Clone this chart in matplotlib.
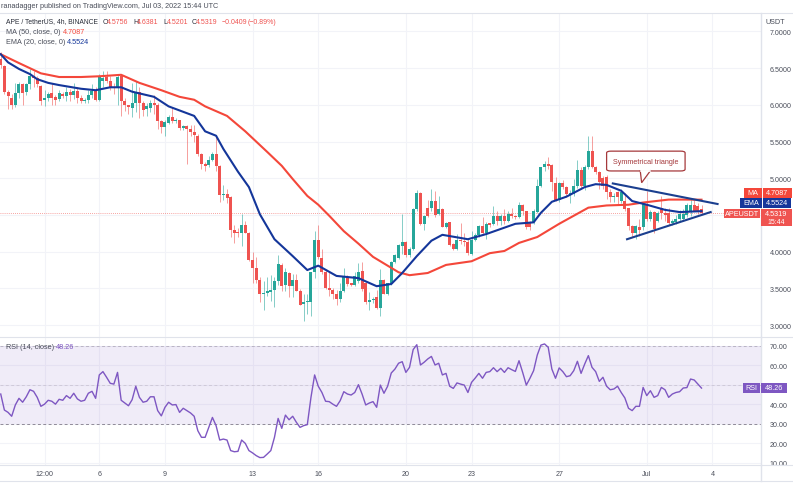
import matplotlib
matplotlib.use('Agg')
from matplotlib import pyplot as plt
from matplotlib.patches import Rectangle, FancyBboxPatch, Polygon
from matplotlib.transforms import Affine2D
import numpy as np

plt.rcParams['font.family'] = ['Liberation Sans', 'DejaVu Sans']

# 4h candles
opens = [6.62,6.53,6.17,6.10,6.00,6.16,6.29,6.17,6.28,6.39,
         6.37,6.26,6.06,6.10,6.16,6.11,6.08,6.15,6.12,6.18,
         6.13,6.19,6.10,6.05,6.07,6.13,6.19,6.07,6.33,6.38,
         6.33,6.25,6.24,6.39,6.05,6.00,5.96,6.02,6.18,6.03,
         5.95,5.96,6.03,6.00,5.78,5.70,5.76,5.84,5.78,5.79,
         5.68,5.71,5.67,5.63,5.58,5.33,5.20,5.18,5.25,5.33,
         5.17,4.77,4.78,4.74,4.30,4.26,4.26,4.37,4.26,3.89,
         3.78,3.62,3.42,3.44,3.45,3.48,3.60,3.82,3.54,3.71,
         3.53,3.62,3.47,3.29,3.31,3.31,3.72,4.16,3.92,3.73,
         3.50,3.48,3.42,3.36,3.46,3.65,3.56,3.54,3.60,3.74,
         3.57,3.32,3.34,3.38,3.23,3.61,3.43,3.56,3.86,3.92,
         4.08,4.13,3.95,4.04,4.58,4.80,4.38,4.59,4.59,4.69,
         4.52,4.58,4.34,4.40,4.10,4.04,4.16,4.15,4.13,3.97,
         4.16,4.23,4.35,4.25,4.38,4.38,4.48,4.42,4.48,4.42,
         4.51,4.48,4.47,4.64,4.55,4.40,4.40,4.54,4.89,5.15,
         5.19,5.18,4.94,4.70,4.93,4.88,4.78,4.78,4.90,5.11,
         4.90,5.15,5.37,5.16,5.09,5.01,5.02,4.81,4.74,4.81,
         4.69,4.69,4.59,4.35,4.26,4.33,4.33,4.65,4.44,4.54,
         4.42,4.59,4.53,4.53,4.39,4.41,4.45,4.45,4.50,4.54,
         4.63,4.62,4.5756]
highs = [6.72,6.55,6.20,6.15,6.30,6.31,6.30,6.30,6.49,6.46,
         6.40,6.27,6.20,6.18,6.30,6.14,6.20,6.17,6.25,6.22,
         6.30,6.25,6.14,6.10,6.20,6.28,6.25,6.42,6.46,6.46,
         6.40,6.30,6.42,6.40,6.10,6.00,6.30,6.33,6.25,6.05,
         6.02,6.06,6.13,6.03,5.80,5.80,5.86,5.97,5.82,5.80,
         5.73,5.72,5.72,5.72,5.61,5.35,5.22,5.30,5.36,5.58,
         5.18,4.91,4.85,4.76,4.36,4.32,4.51,4.42,4.27,4.00,
         3.93,3.65,3.60,3.65,3.68,3.65,3.96,3.84,3.78,3.73,
         3.70,3.70,3.49,3.42,3.42,3.73,4.28,4.36,4.04,3.75,
         3.72,3.50,3.48,3.57,3.78,3.68,3.58,3.72,3.85,3.86,
         3.58,3.45,3.38,3.48,3.76,3.63,3.58,3.88,3.97,4.10,
         4.52,4.15,4.06,4.60,4.84,4.81,4.50,4.70,4.85,4.83,
         4.76,4.60,4.40,4.41,4.12,4.24,4.39,4.25,4.17,4.28,
         4.25,4.37,4.47,4.40,4.39,4.62,4.55,4.52,4.58,4.55,
         4.60,4.50,4.68,4.65,4.56,4.42,4.58,4.99,5.16,5.23,
         5.29,5.20,5.02,4.95,4.98,4.90,4.84,4.99,5.25,5.15,
         5.18,5.57,5.57,5.17,5.10,5.03,5.04,4.85,4.80,4.83,
         4.86,4.80,4.60,4.36,4.37,4.45,4.66,4.83,4.57,4.55,
         4.56,4.76,4.60,4.60,4.44,4.50,4.57,4.58,4.66,4.72,
         4.70,4.66,4.6381]
lows = [6.50,6.15,5.94,5.95,5.97,6.10,6.00,6.14,6.22,6.25,
        6.25,6.00,5.98,6.05,6.00,6.00,6.05,6.10,6.05,6.05,
        6.08,6.03,6.02,6.02,6.03,6.10,6.05,6.05,6.25,6.30,
        6.20,6.15,6.00,5.85,5.92,5.88,5.83,5.90,5.82,5.85,
        5.85,5.90,5.88,5.67,5.62,5.58,5.74,5.75,5.76,5.66,
        5.66,5.20,5.57,5.50,5.30,5.13,5.10,5.15,5.24,5.10,
        4.68,4.70,4.67,4.20,4.12,4.20,4.08,4.25,3.88,3.57,
        3.58,3.32,3.21,3.39,3.33,3.24,3.55,3.47,3.47,3.38,
        3.38,3.46,3.27,3.06,3.15,3.12,3.64,3.90,3.70,3.49,
        3.40,3.35,3.28,3.32,3.45,3.53,3.53,3.53,3.58,3.47,
        3.29,3.20,3.30,3.22,3.12,3.42,3.41,3.55,3.84,3.90,
        3.97,3.93,3.93,4.03,4.55,4.36,4.30,4.47,4.55,4.47,
        4.50,4.33,4.32,4.08,4.03,4.02,4.10,4.08,3.96,3.95,
        4.15,4.20,4.24,4.17,4.33,4.36,4.36,4.36,4.38,4.40,
        4.46,4.45,4.46,4.50,4.31,4.30,4.38,4.53,4.88,5.10,
        5.12,4.83,4.69,4.68,4.85,4.74,4.66,4.76,4.87,4.85,
        4.84,5.13,5.14,5.06,4.85,4.85,4.72,4.68,4.68,4.65,
        4.66,4.56,4.30,4.20,4.17,4.22,4.30,4.42,4.42,4.26,
        4.40,4.44,4.42,4.37,4.36,4.38,4.42,4.42,4.47,4.48,
        4.55,4.52,4.5201]
closes = [6.55,6.17,6.12,6.00,6.16,6.29,6.16,6.28,6.39,6.36,
          6.28,6.05,6.10,6.15,6.09,6.07,6.16,6.12,6.18,6.13,
          6.19,6.10,6.05,6.07,6.14,6.19,6.07,6.38,6.37,6.33,
          6.25,6.23,6.38,6.05,6.00,5.97,6.02,6.18,6.03,5.93,
          5.98,6.02,6.00,5.78,5.70,5.77,5.84,5.78,5.79,5.68,
          5.71,5.67,5.63,5.59,5.33,5.20,5.17,5.25,5.33,5.17,
          4.77,4.78,4.73,4.30,4.26,4.25,4.37,4.26,3.89,3.78,
          3.62,3.43,3.44,3.46,3.48,3.60,3.83,3.53,3.72,3.53,
          3.62,3.47,3.28,3.31,3.31,3.72,4.16,3.93,3.73,3.50,
          3.48,3.42,3.36,3.46,3.65,3.56,3.55,3.67,3.73,3.49,
          3.31,3.34,3.36,3.23,3.61,3.43,3.57,3.86,3.95,4.09,
          4.13,3.95,4.04,4.58,4.80,4.38,4.49,4.49,4.69,4.50,
          4.58,4.34,4.39,4.09,4.04,4.16,4.14,4.13,3.98,4.16,
          4.23,4.35,4.25,4.38,4.37,4.48,4.42,4.48,4.42,4.51,
          4.48,4.47,4.64,4.55,4.33,4.33,4.55,4.89,5.15,5.19,
          5.17,4.95,4.70,4.93,4.88,4.78,4.79,4.90,5.11,4.90,
          5.15,5.37,5.16,5.09,4.95,4.89,4.81,4.74,4.75,4.74,
          4.81,4.58,4.35,4.26,4.35,4.29,4.65,4.44,4.54,4.31,
          4.53,4.53,4.50,4.39,4.42,4.45,4.51,4.52,4.63,4.64,
          4.55,4.56,4.5319]

# moving averages, sampled along the drawn lines
ma_bars = [0,5,11,16,22,27,33,38,44,49,53,56,62,67,73,77,80,84,87,90,94,98,102,106,109,112,
           117,122,129,134,138,142,147,151,153,157,161,166,172,176,183,187,192]
ma_vals = [6.69,6.57,6.43,6.38,6.38,6.39,6.41,6.30,6.20,6.11,6.07,5.98,5.85,5.64,5.36,5.17,
           4.99,4.76,4.64,4.49,4.28,4.11,3.93,3.81,3.72,3.68,3.71,3.82,3.87,3.98,4.01,4.12,
           4.20,4.32,4.38,4.49,4.60,4.63,4.64,4.67,4.71,4.71,4.7087]
ema_bars = [0,2,5,8,10,13,16,22,26,30,33,36,42,46,53,56,59,61,65,68,71,75,80,84,87,92,98,103,
            107,110,114,118,121,128,133,141,146,148,151,155,160,163,166,170,173,177,182,186,192]
ema_vals = [6.69,6.58,6.49,6.42,6.35,6.30,6.27,6.22,6.20,6.24,6.24,6.18,6.11,5.98,5.85,5.64,
            5.58,5.40,5.09,4.88,4.51,4.17,3.94,3.75,3.81,3.67,3.64,3.53,3.56,3.71,3.94,4.15,
            4.23,4.17,4.24,4.38,4.40,4.53,4.68,4.75,4.88,4.92,4.91,4.83,4.69,4.64,4.57,4.54,4.5524]

rsi_vals = [45.2,37.0,35.8,33.8,39.6,43.0,41.0,43.8,47.4,46.6,
            43.5,38.9,40.0,42.0,41.5,40.0,42.5,42.0,44.4,43.0,
            45.6,42.7,41.5,42.0,45.6,46.6,43.0,55.0,56.7,53.8,
            50.7,50.3,56.3,42.0,40.6,39.2,42.3,49.2,43.5,41.0,
            41.5,43.8,43.8,36.7,34.0,38.4,41.0,39.6,39.8,35.8,
            37.9,36.7,35.5,33.8,26.4,23.0,23.0,28.1,33.2,29.0,
            21.6,22.1,21.6,16.2,15.6,15.8,21.6,19.9,16.2,15.0,
            13.6,12.6,12.7,14.4,16.2,23.0,32.7,27.6,34.4,32.0,
            33.8,30.7,28.1,29.0,29.5,43.5,55.0,49.2,46.0,41.5,
            41.3,40.0,38.9,41.8,46.4,45.2,44.7,46.0,50.0,45.2,
            39.6,40.6,41.3,38.4,49.8,45.6,49.2,56.0,58.0,61.0,
            61.8,56.3,58.9,68.0,70.5,60.1,61.5,63.2,64.5,60.1,
            61.0,55.0,55.8,49.2,48.1,50.9,50.3,49.8,46.0,51.2,
            53.4,55.8,53.3,56.3,56.7,58.7,56.7,58.4,56.3,58.7,
            57.7,56.8,62.3,56.3,49.8,53.3,57.2,65.2,70.3,70.9,
            69.2,58.0,53.3,58.6,56.7,54.1,54.6,57.2,62.0,55.8,
            60.6,64.9,58.9,56.7,51.7,53.8,49.2,47.4,47.8,49.2,
            46.0,43.2,37.9,36.7,38.9,38.9,48.6,44.4,46.9,43.5,
            44.4,48.6,47.4,43.5,45.2,46.0,46.4,48.3,48.5,52.9,
            52.4,50.3,48.26]

time_ticks = [12, 27, 45, 69, 87, 111, 129, 153, 177, 195]
time_labels = ['12:00', '6', '9', '13', '16', '20', '23', '27', 'Jul', '4']
price_ticks = [3.0, 3.5, 4.0, 4.5, 5.0, 5.5, 6.0, 6.5, 7.0]
rsi_ticks = [10, 20, 30, 40, 50, 60, 70]
last_price = 4.5319

UP = '#26a69a'
DOWN = '#ef5350'
MA_COLOR = '#f4473a'
EMA_COLOR = '#14369a'
RSI_COLOR = '#7e57c2'
GRID = '#f2f3f8'
BORDER = '#e0e3eb'
TEXT = '#4a4e5a'
W, H = 793, 485

fig = plt.figure(figsize=(W / 100, H / 100), dpi=100)
fig.patch.set_facecolor('white')

# pixel coordinates of the figure, y going down
px = Affine2D().scale(1 / W, -1 / H).translate(0, 1) + fig.transFigure


def pane(left, top, right, bottom):
    a = fig.add_axes([left / W, 1 - bottom / H, (right - left) / W, (bottom - top) / H])
    a.set_xlim(-0.2, 208.3)
    a.yaxis.tick_right()
    a.tick_params(length=0, labelsize=5.1, labelcolor=TEXT, pad=6)
    a.set_axisbelow(True)
    a.grid(True, color=GRID, lw=0.8)
    for s in ['left', 'top', 'bottom']:
        a.spines[s].set_visible(False)
    a.spines['right'].set_color(BORDER)
    a.spines['right'].set_linewidth(1)
    return a


def label(x, y, s, color=TEXT, size=5.2, ha='left', **kw):
    fig.text(x, y, s, transform=px, color=color, fontsize=size, ha=ha, va='center', **kw)


def tag(x0, x1, y0, y1, color, s, ty=None):
    fig.add_artist(Rectangle((x0, y0), x1 - x0, y1 - y0, transform=px, fc=color, ec='none'))
    label((x0 + x1) / 2, (y0 + y1) / 2 if ty is None else ty, s, color='white', ha='center', size=5.2)


# price pane
ax = pane(0, 14, 761, 338)
ax.set_ylim(2.838, 7.252)
ax.set_yticks(price_ticks)
# 4.5000 sits under the price tags
ax.set_yticklabels(['' if p == 4.5 else '%.4f' % p for p in price_ticks])
ax.set_xticks(time_ticks)
ax.set_xticklabels([])

bars = np.arange(len(closes))
o, h, l, c = map(np.array, (opens, highs, lows, closes))
colors = np.where(c >= o, UP, DOWN)
ax.vlines(bars, l, h, colors=colors, lw=0.6, alpha=0.65, zorder=2)
ax.bar(bars, np.maximum(np.abs(c - o), 0.018), bottom=np.minimum(o, c), width=0.82, color=colors, zorder=3)

ax.axhline(last_price, color=DOWN, lw=0.6, ls=(0, (1, 1.5)), alpha=0.7, zorder=2)
ax.plot(ma_bars, ma_vals, color=MA_COLOR, lw=1.5, zorder=4)
ax.plot(ema_bars, ema_vals, color=EMA_COLOR, lw=1.5, zorder=5)

# triangle
ax.plot([167.7, 196.4], [4.93, 4.65], color='#1b3f8f', lw=1.5, zorder=6)
ax.plot([171.6, 194.5], [4.17, 4.54], color='#1b3f8f', lw=1.5, zorder=6)

# callout
box_c = '#a5393c'
ax.add_patch(FancyBboxPatch((166, 5.10), 21.5, 0.27, boxstyle='round,pad=0,rounding_size=1.2',
                            mutation_aspect=0.02, fc='white', ec=box_c, lw=0.9, zorder=7))
ax.add_patch(Polygon([(175.2, 5.11), (175.6, 4.94), (178.1, 5.11)], closed=False, fc='white', ec=box_c,
                     lw=0.9, zorder=8))
ax.plot([175.5, 177.8], [5.10, 5.10], color='white', lw=1.2, zorder=9)
ax.text(176.6, 5.235, 'Symmetrical triangle', color=box_c, fontsize=5.2, ha='center', va='center', zorder=10)

# RSI pane
ax2 = pane(0, 338, 761, 466)
ax2.set_ylim(8.8, 74.46)
ax2.set_yticks(rsi_ticks)
# 50.00 sits under the RSI tag
ax2.set_yticklabels(['' if v == 50 else '%.2f' % v for v in rsi_ticks])
ax2.set_xticks(time_ticks)
ax2.set_xticklabels(time_labels)
ax2.tick_params(axis='x', pad=3.5)
ax2.axhspan(30, 70, color=RSI_COLOR, alpha=0.11, lw=0, zorder=1)
for v, col in [(70, '#b9b4c4'), (50, '#cfcad9'), (30, '#8f8a99')]:
    ax2.axhline(v, color=col, lw=0.7, ls=(0, (3, 2.5)), zorder=2)
ax2.plot(bars, rsi_vals, color=RSI_COLOR, lw=1.0, zorder=3)

# frame lines
for y in [14, 338, 466, 482]:
    fig.add_artist(plt.Line2D([0, W], [y, y], transform=px, color=BORDER, lw=0.8))
fig.add_artist(plt.Line2D([761, 761], [466, 482], transform=px, color=BORDER, lw=1))

# header and legends
label(1, 6.5, 'ranadagger published on TradingView.com, Jul 03, 2022 15:44 UTC', size=5.2)
label(6, 22, 'APE / TetherUS, 4h, BINANCE', color='#2a2e39', size=4.9)
for x, s, col in [(102.5, 'O', '#2a2e39'), (106.8, '4.5756', DOWN), (133, 'H', '#2a2e39'), (137.3, '4.6381', DOWN),
                  (163, 'L', '#2a2e39'), (166.5, '4.5201', DOWN), (192, 'C', '#2a2e39'), (196.3, '4.5319', DOWN),
                  (221.5, '\u22120.0409', DOWN), (248, '(\u22120.89%)', DOWN)]:
    label(x, 22, s, color=col, size=5.0)
label(6, 32.5, 'MA (50, close, 0)', size=5.2)
label(63, 32.5, '4.7087', color=MA_COLOR, size=5.2)
label(6, 42.5, 'EMA (20, close, 0)', size=5.2)
label(67, 42.5, '4.5524', color=EMA_COLOR, size=5.2)
label(6, 347.7, 'RSI (14, close)', size=5.2)
label(55.5, 347.7, '48.26', color=RSI_COLOR, size=5.2)
label(766, 22, 'USDT', size=5.2)

# price tags on the right axis
tag(744, 762, 189, 198.5, MA_COLOR, 'MA')
tag(763, 792, 189, 198.5, MA_COLOR, '4.7087')
tag(740, 762, 199, 209, EMA_COLOR, 'EMA')
tag(763, 791, 199, 209, EMA_COLOR, '4.5524')
tag(724, 760, 210, 219, DOWN, 'APEUSDT')
tag(761, 792, 210, 227, DOWN, '4.5319', ty=214.2)
label(776.5, 223, '15:44', color='white', ha='center', size=5.0)
tag(743, 759.5, 384, 394, RSI_COLOR, 'RSI')
tag(761, 787, 384, 394, RSI_COLOR, '48.26')

fig.savefig('out.png', dpi=100)
